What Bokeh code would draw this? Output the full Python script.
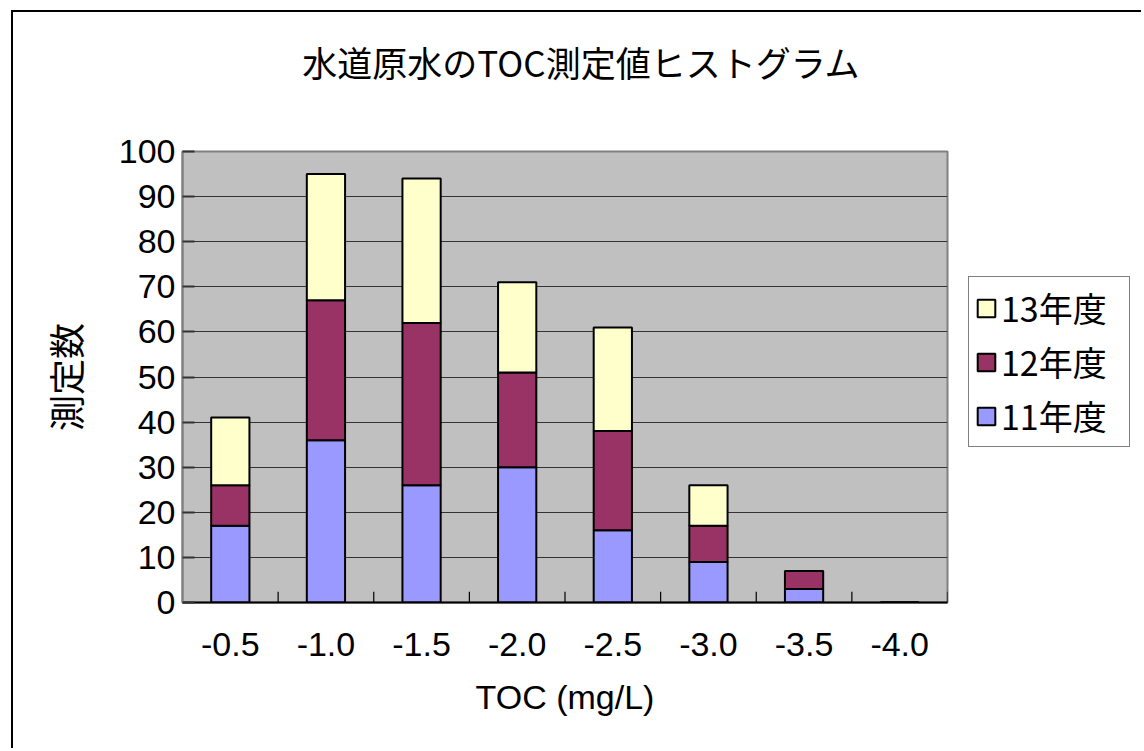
from bokeh.plotting import figure
from bokeh.layouts import column, row
from bokeh.models import (ColumnDataSource, FactorRange, Range1d, Legend, LegendItem,
                          SingleIntervalTicker, Label)
from bokeh.embed import file_html
from bokeh.resources import INLINE

# ---- data ----
categories = ["-0.5", "-1.0", "-1.5", "-2.0", "-2.5", "-3.0", "-3.5", "-4.0"]
years = ["11年度", "12年度", "13年度"]
fy11 = [17, 36, 26, 30, 16, 9, 3, 0]
fy12 = [9, 31, 36, 21, 22, 8, 4, 0]
fy13 = [15, 28, 32, 20, 23, 9, 0, 0]
colors = ["#9999FF", "#993366", "#FFFFCC"]
title_text = "水道原水のTOC測定値ヒストグラム"
x_label = "TOC (mg/L)"
y_label = "測定数"

JP = "Noto Sans CJK JP"
LAT = "Liberation Sans"

src = ColumnDataSource(dict(cat=categories, **{years[0]: fy11, years[1]: fy12, years[2]: fy13}))

TOTAL_W, TOTAL_H = 1128, 736
TITLE_H = 110
PW = 942                    # width of the chart part
LW = TOTAL_W - PW           # width of the legend part
PH = TOTAL_H - TITLE_H

# ---- title strip ----
t = figure(width=TOTAL_W, height=TITLE_H, x_range=Range1d(0, 1), y_range=Range1d(0, 1),
           x_axis_type=None, y_axis_type=None, output_backend="svg",
           toolbar_location=None, min_border=0, outline_line_color=None,
           background_fill_color="white", border_fill_color="white")
t.add_layout(Label(x=568, y=TITLE_H - 49, x_units="screen", y_units="screen",
                   text=title_text, text_font=JP, text_font_size="35px",
                   text_color="black", text_align="center", text_baseline="middle"))

# ---- chart ----
p = figure(x_range=FactorRange(*categories, range_padding=0), y_range=Range1d(0, 100),
           width=PW, height=PH, output_backend="svg", toolbar_location=None,
           min_border_left=169, min_border_top=139 - TITLE_H, min_border_right=PW - 934,
           min_border_bottom=TOTAL_H - 590,
           background_fill_color="#C0C0C0", border_fill_color="white",
           outline_line_color="#808080", outline_line_width=2)

renderers = p.vbar_stack(years, x="cat", width=0.4, source=src, fill_color=colors,
                         line_color="black", line_width=2)

# tick marks between categories
bx = [[c, 0.5] for c in categories]
p.segment(x0=bx, y0=[0] * len(bx), x1=bx, y1=[2.4] * len(bx),
          line_color="black", line_width=1.2)

p.xgrid.grid_line_color = None
p.ygrid.grid_line_color = "#333333"
p.ygrid.grid_line_width = 1

p.yaxis.ticker = SingleIntervalTicker(interval=10)
p.yaxis.minor_tick_line_color = None
p.yaxis.major_tick_in = 12
p.yaxis.major_tick_out = 0
p.yaxis.major_tick_line_color = "#333333"
p.yaxis.major_tick_line_width = 2
p.yaxis.axis_line_color = "#808080"
p.yaxis.axis_line_width = 2
p.yaxis.major_label_text_font = LAT
p.yaxis.major_label_text_font_size = "34px"
p.yaxis.major_label_text_color = "black"
p.yaxis.major_label_standoff = 3
p.yaxis.axis_label = y_label
p.yaxis.axis_label_text_font = JP
p.yaxis.axis_label_text_font_size = "36px"
p.yaxis.axis_label_text_font_style = "normal"
p.yaxis.axis_label_text_color = "black"
p.yaxis.axis_label_standoff = 25

p.xaxis.major_tick_in = 0
p.xaxis.major_tick_out = 0
p.xaxis.axis_line_color = "black"
p.xaxis.axis_line_width = 2
p.xaxis.major_label_text_font = LAT
p.xaxis.major_label_text_font_size = "34px"
p.xaxis.major_label_text_color = "black"
p.xaxis.major_label_standoff = 30
p.xaxis.axis_label = x_label
p.xaxis.axis_label_text_font = LAT
p.xaxis.axis_label_text_font_size = "34px"
p.xaxis.axis_label_text_font_style = "normal"
p.xaxis.axis_label_text_color = "black"
p.xaxis.axis_label_standoff = 19

# ---- legend part (same series, renderers hidden, only legend shown) ----
lg = figure(width=LW, height=PH, x_range=FactorRange(*categories), y_range=Range1d(-2, -1),
            x_axis_type=None, y_axis_type=None, output_backend="svg",
            toolbar_location=None, min_border=0, outline_line_color=None,
            background_fill_color="white", border_fill_color="white")
lg_renderers = lg.vbar_stack(years, x="cat", width=0.4, source=src, fill_color=colors,
                             line_color="black", line_width=2)
for r in lg_renderers:
    r.visible = False
items = [LegendItem(label=years[i], renderers=[lg_renderers[i]]) for i in (2, 1, 0)]
legend = Legend(items=items, location=(13, 155), orientation="vertical",
                border_line_color="black", border_line_width=1,
                background_fill_color="white", background_fill_alpha=1,
                label_text_font=JP, label_text_font_size="34px",
                label_text_color="black", label_height=40, label_width=122,
                glyph_width=22, glyph_height=22, spacing=5, padding=6,
                label_standoff=4, margin=0, click_policy="none",
                inactive_fill_alpha=0)
lg.add_layout(legend, "center")

layout = column(t, row(p, lg, spacing=0), spacing=0,
                styles={"border-left": "2px solid black", "border-top": "2px solid black",
                        "margin-left": "11px", "margin-top": "10px"})

open("out.html", "w").write(file_html(layout, INLINE))
